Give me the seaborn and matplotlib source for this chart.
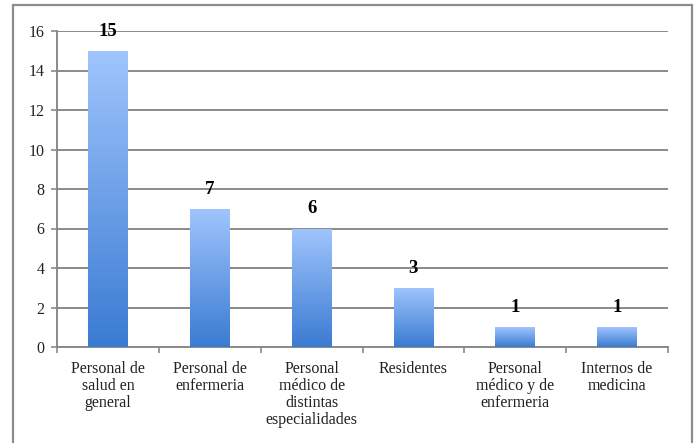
import numpy as np
import pandas as pd
import matplotlib
matplotlib.use("Agg")
import matplotlib.pyplot as plt
from matplotlib.colors import LinearSegmentedColormap
from matplotlib.patches import Rectangle
import seaborn as sns

categories = [
    "Personal de\nsalud en\ngeneral",
    "Personal de\nenfermeria",
    "Personal\nmédico de\ndistintas\nespecialidades",
    "Residentes",
    "Personal\nmédico y de\nenfermeria",
    "Internos de\nmedicina",
]
counts = [15, 7, 6, 3, 1, 1]
y_ticks = [0, 2, 4, 6, 8, 10, 12, 14, 16]

sns.set_theme(style="white")
plt.rcParams["font.family"] = ["Liberation Serif", "DejaVu Serif"]

grid_gray = "#8a8a8a"
top_blue = "#a0c5fd"
bottom_blue = "#3a7bd2"

df = pd.DataFrame({"categoria": categories, "n": counts})

fig = plt.figure(figsize=(6.96, 4.43), dpi=100)
ax = fig.add_axes([57 / 696, 96 / 443, (668 - 57) / 696, (347 - 31) / 443])

sns.barplot(data=df, x="categoria", y="n", color=bottom_blue, width=0.39,
            saturation=1, ax=ax, zorder=3)

ax.set_ylim(0, 16)
ax.set_xlim(-0.5, len(categories) - 0.5)
ax.set_yticks(y_ticks)
ax.set_xlabel("")
ax.set_ylabel("")

# vertical gradient inside each bar
cmap = LinearSegmentedColormap.from_list("barfade", [bottom_blue, top_blue])
grad = np.linspace(0, 1, 256).reshape(-1, 1)
for patch in ax.patches:
    x0, y0 = patch.get_x(), patch.get_y()
    w, h = patch.get_width(), patch.get_height()
    im = ax.imshow(grad, cmap=cmap, origin="lower", aspect="auto",
                   extent=[x0, x0 + w, y0, y0 + h], zorder=4)
    im.set_clip_path(patch)
    patch.set_edgecolor("none")
ax.set_xlim(-0.5, len(categories) - 0.5)
ax.set_ylim(0, 16)

# value labels above bars
for i, v in enumerate(counts):
    ax.annotate(str(v), xy=(i, v), xytext=(0, 8), textcoords="offset points",
                ha="center", va="bottom", fontsize=13.5, fontweight="bold",
                color="black", zorder=6, annotation_clip=False)

ax.yaxis.grid(True, color=grid_gray, linewidth=1.4, zorder=1)
ax.xaxis.grid(False)
for side in ["top", "right"]:
    ax.spines[side].set_visible(False)
for side in ["left", "bottom"]:
    ax.spines[side].set_color(grid_gray)
    ax.spines[side].set_linewidth(1.4)

ax.tick_params(axis="y", which="major", direction="out", length=4,
               width=1.2, color=grid_gray, labelsize=11.5, pad=5,
               left=True, labelcolor="#222222")
ax.tick_params(axis="x", which="major", length=0, labelsize=11.5, pad=10,
               labelcolor="#222222")
ax.set_xticks(np.arange(-0.5, len(categories), 1.0), minor=True)
ax.tick_params(axis="x", which="minor", direction="out", length=4,
               width=1.2, color=grid_gray, bottom=True)
for lab in ax.get_xticklabels():
    lab.set_ha("center")
    lab.set_multialignment("center")
    lab.set_linespacing(1.1)

# outer chart frame
frame = Rectangle((13 / 696, -0.02), (692 - 13) / 696, 1 - 5 / 443 + 0.02,
                  transform=fig.transFigure, fill=False,
                  edgecolor="#8c8c8c", linewidth=1.6, zorder=0)
fig.patches.append(frame)

fig.savefig("out.png", dpi=100)
